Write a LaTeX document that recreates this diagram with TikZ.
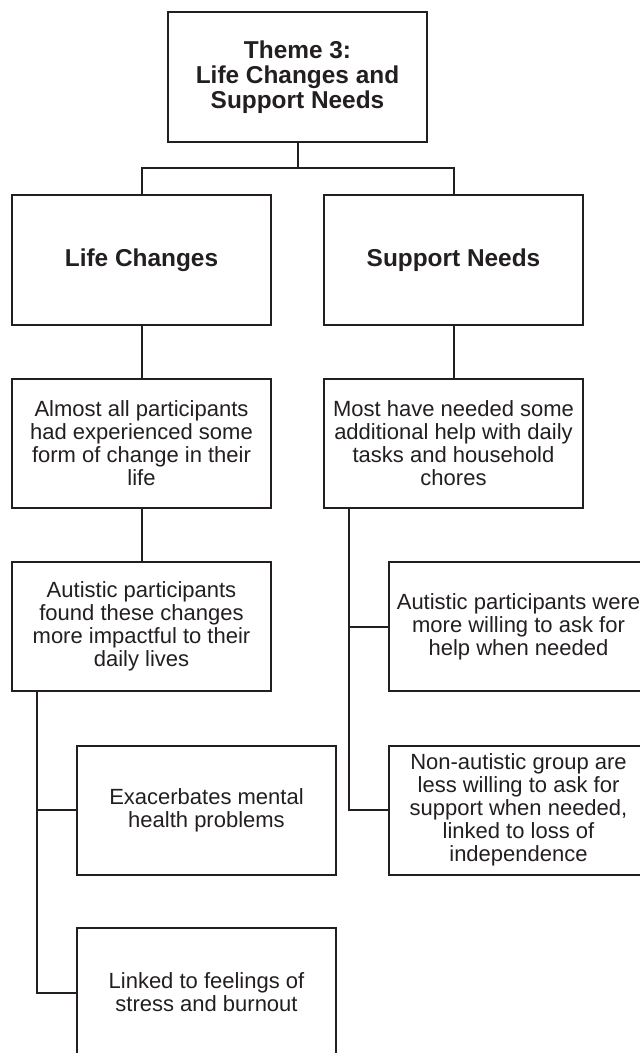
\documentclass[tikz,border=0pt]{standalone}
\usepackage{fontspec}
\setmainfont{Liberation Sans}
\definecolor{ink}{RGB}{35,31,32}
\begin{document}
\begin{tikzpicture}[x=1pt,y=-1pt,
  box/.style={draw=ink,line width=2pt,rectangle,minimum width=259pt,minimum height=129pt,
    inner sep=3pt,align=center,text=ink,font=\fontsize{22}{23}\selectfont},
  headbox/.style={box,font=\bfseries\fontsize{24.4}{25}\selectfont},
  link/.style={draw=ink,line width=2pt}]
\clip (0,0) rectangle (640,1053);
\fill[white] (0,0) rectangle (640,1053);

\node[headbox,minimum height=130pt] (top) at (297.5,77) {Theme 3:\\Life Changes and\\Support Needs};
\node[headbox,minimum height=130pt] (lc) at (141.5,260) {Life Changes};
\node[headbox,minimum height=130pt] (sn) at (453.5,260) {Support Needs};
\node[box] (a1) at (141.5,443.5) {Almost all participants\\had experienced some\\form of change in their\\life};
\node[box] (s1) at (453.5,443.5) {Most have needed some\\additional help with daily\\tasks and household\\chores};
\node[box] (a2) at (141.5,626.5) {Autistic participants\\found these changes\\more impactful to their\\daily lives};
\node[box] (s2) at (518.5,626.5) {Autistic participants were\\more willing to ask for\\help when needed};
\node[box] (s3) at (518.5,810) {Non-autistic group are\\less willing to ask for\\support when needed,\\linked to loss of\\independence};
\node[box] (a3) at (206.5,810) {Exacerbates mental\\health problems};
\node[box] (a4) at (206.5,992.5) {Linked to feelings of\\stress and burnout};

\coordinate (j) at (297.5,168);
\path[link] (top.south) -- (j);
\path[link] (lc.north) |- (j) -| (sn.north);
\path[link] (lc.south) -- (a1.north);
\path[link] (sn.south) -- (s1.north);
\path[link] (a1.south) -- (a2.north);
\path[link] ([xshift=26pt]a2.south west) |- (a3.west);
\path[link] ([xshift=26pt]a2.south west) |- (a4.west);
\path[link] ([xshift=26pt]s1.south west) |- (s2.west);
\path[link] ([xshift=26pt]s1.south west) |- (s3.west);
\end{tikzpicture}
\end{document}
